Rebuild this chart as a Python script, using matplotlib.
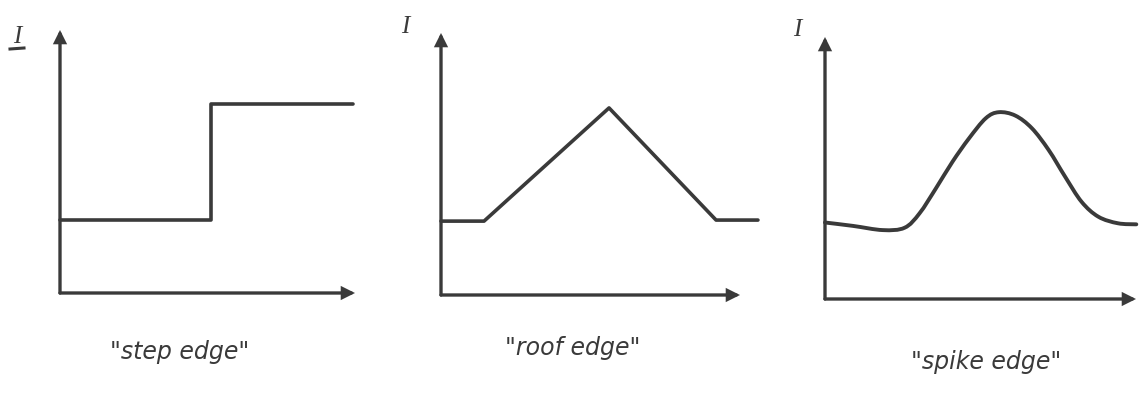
import matplotlib
matplotlib.use('Agg')
from matplotlib import pyplot as plt
from matplotlib.path import Path
from matplotlib.patches import PathPatch

# intensity profiles across an edge, in a 0..10 x 0..10 sketch space
step_x = [0.0, 5.12, 5.12, 9.93]
step_y = [2.78, 2.78, 7.19, 7.19]

roof_x = [0.0, 1.44, 5.62, 9.20, 10.6]
roof_y = [2.82, 2.82, 7.14, 2.86, 2.86]

spike_x = [0.0, 0.90, 1.86, 2.56, 3.04, 3.57, 4.10, 4.63, 5.17,
           5.59, 6.12, 6.65, 7.19, 7.72, 8.25, 8.79, 9.42, 10.01]
spike_y = [2.92, 2.79, 2.63, 2.72, 3.27, 4.23, 5.24, 6.13, 6.90,
           7.13, 7.00, 6.52, 5.69, 4.67, 3.71, 3.14, 2.89, 2.85]

captions = ['"step edge"', '"roof edge"', '"spike edge"']
axis_label = 'I'

W, H = 1139, 393
INK = '#3a3a3a'

# panel geometry in pixels: origin x, origin y, x-arrow tip, y-arrow tip
panels = [
    (60, 293, 355, 30),
    (441, 295, 740, 33),
    (825, 299, 1136, 37),
]
label_pos = [(17, 37), (405, 27), (797, 30)]
caption_pos = [(180, 352), (573, 348), (986, 362)]
profiles = [(step_x, step_y, False), (roof_x, roof_y, False),
            (spike_x, spike_y, True)]


def smooth_path(xs, ys):
    # Catmull-Rom through the points, written as cubic bezier segments
    pts = list(zip(xs, ys))
    verts = [pts[0]]
    codes = [Path.MOVETO]
    n = len(pts)
    for i in range(n - 1):
        p0 = pts[i - 1] if i > 0 else pts[i]
        p1 = pts[i]
        p2 = pts[i + 1]
        p3 = pts[i + 2] if i + 2 < n else pts[i + 1]
        c1 = (p1[0] + (p2[0] - p0[0]) / 6, p1[1] + (p2[1] - p0[1]) / 6)
        c2 = (p2[0] - (p3[0] - p1[0]) / 6, p2[1] - (p3[1] - p1[1]) / 6)
        verts += [c1, c2, p2]
        codes += [Path.CURVE4] * 3
    return Path(verts, codes)


def draw_panel(fig, geom, xs, ys, smooth):
    ox, oy, xt, yt = geom
    ax = fig.add_axes([ox / W, 1 - oy / H, (xt - ox) / W, (oy - yt) / H])
    ax.set_xlim(0, 10)
    ax.set_ylim(0, 10)
    ax.axis('off')
    arrow = dict(arrowstyle='-|>', lw=2.4, color=INK, mutation_scale=16,
                 shrinkA=0, shrinkB=0, joinstyle='miter')
    ax.annotate('', xy=(10, 0), xytext=(0, 0), arrowprops=arrow,
                annotation_clip=False)
    ax.annotate('', xy=(0, 10), xytext=(0, 0), arrowprops=arrow,
                annotation_clip=False)
    if smooth:
        patch = PathPatch(smooth_path(xs, ys), facecolor='none',
                          edgecolor=INK, lw=2.8, clip_on=False,
                          capstyle='round', joinstyle='round')
        ax.add_patch(patch)
    else:
        ax.plot(xs, ys, color=INK, lw=2.6, clip_on=False,
                solid_joinstyle='round', solid_capstyle='round')
    return ax


def main():
    fig = plt.figure(figsize=(W / 100, H / 100), dpi=100)
    fig.patch.set_facecolor('white')
    for geom, (xs, ys, smooth) in zip(panels, profiles):
        draw_panel(fig, geom, xs, ys, smooth)
    for (lx, ly) in label_pos:
        fig.text(lx / W, 1 - ly / H, axis_label, color=INK, fontsize=18,
                 family='Liberation Serif', style='italic',
                 ha='center', va='center')
    # underline under the first label
    fig.add_artist(plt.Line2D([10 / W, 24 / W], [1 - 49 / H, 1 - 48 / H],
                              color=INK, lw=2.2))
    for text, (cx, cy) in zip(captions, caption_pos):
        fig.text(cx / W, 1 - cy / H, text, color=INK, fontsize=17,
                 family='DejaVu Sans', style='italic',
                 ha='center', va='center')
    fig.savefig('out.png', dpi=100, facecolor='white')


if __name__ == '__main__':
    main()
